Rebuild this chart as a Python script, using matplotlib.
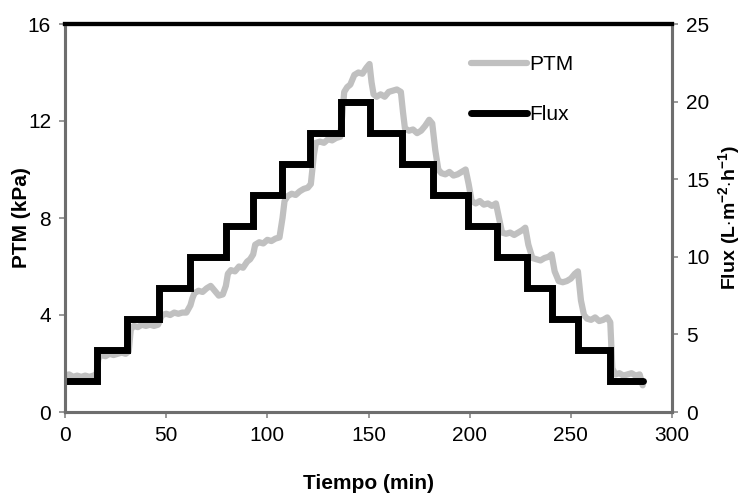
import matplotlib
matplotlib.use("Agg")
import matplotlib.pyplot as plt

plt.rcParams['font.family'] = ['Liberation Sans', 'DejaVu Sans']
plt.rcParams['mathtext.fontset'] = 'custom'
plt.rcParams['mathtext.rm'] = 'Liberation Sans'
plt.rcParams['mathtext.bf'] = 'Liberation Sans:bold'

# Flux step profile: change times (min) and levels (L m-2 h-1)
flux_times = [0, 15.6, 30.8, 46.6, 62.0, 79.6, 93.1, 107.1, 121.1, 136.3,
              150.8, 166.4, 182.0, 199.4, 213.4, 228.2, 240.6, 253.7, 269.4, 285.9]
flux_levels = [2, 4, 6, 8, 10, 12, 14, 16, 18, 20,
               18, 16, 14, 12, 10, 8, 6, 4, 2]

# PTM trace (min, kPa)
ptm_t = [0, 2, 4, 6, 8, 10, 12, 14, 15.5, 16.5, 18, 20, 22, 24, 26, 28, 30, 31.5,
         32.5, 34, 36, 38, 40, 42, 44, 46, 47, 48, 50, 52, 54, 56, 58, 60, 62, 63,
         64, 66, 68, 70, 72, 74, 76, 78, 79.5, 80.5, 82, 84, 86, 88, 90, 91.5, 93,
         94, 96, 98, 100, 102, 104, 106, 107.5, 108.5, 110, 112, 114, 116, 118, 120,
         121.5, 123, 124, 126, 128, 130, 132, 134, 136, 137, 138, 139.5, 141, 143,
         145, 147, 149, 150.5, 151.5, 152.5, 154, 156, 158, 160, 162, 164, 166, 167,
         168, 170, 172, 174, 176, 178, 180, 181.5, 183, 184.5, 186, 188, 190, 192,
         194, 196, 198, 199.5, 201, 203, 205, 207, 209, 211, 213, 214.5, 216, 218,
         220, 222, 224, 226, 227.5, 229, 231, 233, 235, 237, 239, 240.5, 242, 244,
         246, 248, 250, 252, 253.5, 255, 256.5, 258, 260, 262, 264, 266, 268, 269.5,
         270.5, 272, 274, 276, 278, 280, 282, 284, 285.5]
ptm_v = [1.5, 1.55, 1.45, 1.5, 1.45, 1.5, 1.45, 1.5, 1.5, 2.2, 2.35, 2.3, 2.4, 2.35,
         2.4, 2.45, 2.4, 2.5, 3.4, 3.55, 3.5, 3.6, 3.55, 3.6, 3.55, 3.6, 3.8, 4.0,
         4.05, 4.0, 4.1, 4.05, 4.1, 4.1, 4.4, 4.7, 4.9, 5.0, 4.95, 5.1, 5.2, 5.0,
         4.8, 4.85, 5.2, 5.7, 5.85, 5.8, 6.0, 5.95, 6.2, 6.3, 6.5, 6.9, 7.0, 6.95,
         7.1, 7.05, 7.15, 7.2, 8.0, 8.7, 8.9, 9.0, 8.95, 9.1, 9.2, 9.25, 9.4, 10.6,
         11.1, 11.15, 11.1, 11.25, 11.2, 11.3, 11.35, 12.2, 13.2, 13.4, 13.5, 13.9,
         14.0, 13.95, 14.2, 14.35, 13.6, 13.1, 13.0, 13.1, 13.0, 13.2, 13.25, 13.3,
         13.2, 12.4, 11.7, 11.6, 11.65, 11.5, 11.6, 11.8, 12.05, 11.9, 10.8, 10.0,
         9.85, 9.8, 9.9, 9.75, 9.8, 9.9, 10.0, 9.4, 8.7, 8.6, 8.7, 8.55, 8.6, 8.5,
         8.6, 8.0, 7.4, 7.35, 7.4, 7.3, 7.4, 7.5, 7.6, 6.9, 6.35, 6.3, 6.25, 6.35,
         6.4, 6.5, 5.8, 5.4, 5.35, 5.4, 5.5, 5.7, 5.8, 4.6, 4.0, 3.85, 3.8, 3.9,
         3.75, 3.8, 3.9, 3.7, 1.8, 1.55, 1.6, 1.5, 1.55, 1.6, 1.5, 1.55, 1.1]

x_ticks = [0, 50, 100, 150, 200, 250, 300]
ptm_ticks = [0, 4, 8, 12, 16]
flux_ticks = [0, 5, 10, 15, 20, 25]

FS = 15
SPINE = '#6e6e6e'

fig = plt.figure(figsize=(7.43, 4.93), dpi=100)
ax1 = fig.add_axes([65/743, 1-412/493, (672-65)/743, (412-24)/493])
ax2 = ax1.twinx()

# build step path for flux
fx, fy = [], []
for i, lev in enumerate(flux_levels):
    fx += [flux_times[i], flux_times[i+1]]
    fy += [lev, lev]

l1, = ax1.plot(ptm_t, ptm_v, color='#c0c0c0', lw=4.5, solid_capstyle='round',
               solid_joinstyle='round', label='PTM')
l2, = ax2.plot(fx, fy, color='black', lw=5, solid_capstyle='round',
               solid_joinstyle='miter', label='Flux')

ax1.set_xlim(0, 300)
ax1.set_ylim(0, 16)
ax2.set_ylim(0, 25)
ax1.set_xticks(x_ticks)
ax1.set_yticks(ptm_ticks)
ax2.set_yticks(flux_ticks)

for ax in (ax1, ax2):
    for s in ('left', 'right', 'bottom'):
        ax.spines[s].set_color(SPINE)
        ax.spines[s].set_linewidth(2.2)
    ax.spines['top'].set_color('black')
    ax.spines['top'].set_linewidth(3)
    ax.tick_params(direction='out', length=4, width=1.2, color='#888888',
                   labelsize=FS, pad=6)

ax1.set_xlabel('Tiempo (min)', fontsize=FS, fontweight='bold', labelpad=21)
ax1.set_ylabel('PTM (kPa)', fontsize=FS, fontweight='bold', labelpad=-2)
ax2.set_ylabel(r'$\mathbf{Flux\ (L{\cdot}m^{-2}{\cdot}h^{-1})}$', fontsize=14,
               labelpad=5)

leg = ax2.legend(handles=[l1, l2], loc='upper left',
                 bbox_to_anchor=(471/743, 1-55/493), bbox_transform=fig.transFigure,
                 frameon=False, fontsize=FS, borderpad=0, borderaxespad=0,
                 handlelength=2.7, handletextpad=0.1, labelspacing=1.5)
for h in leg.legend_handles:
    h.set_solid_capstyle('round')

fig.savefig('out.png', dpi=100)
